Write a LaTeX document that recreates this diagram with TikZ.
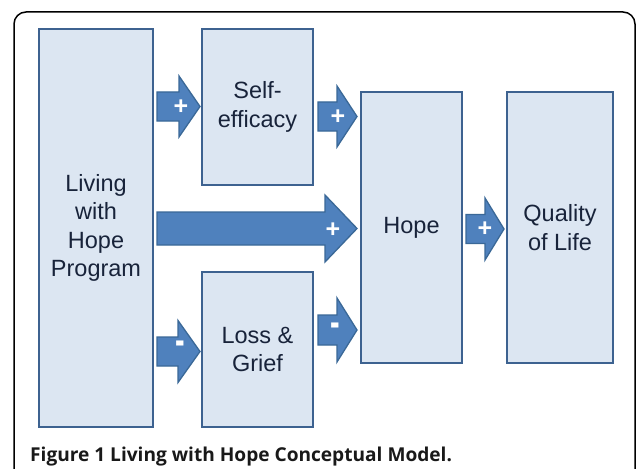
\documentclass[tikz,border=0pt]{standalone}
\usepackage{fontspec}
\setmainfont{Liberation Sans}
\newfontfamily\capfont{Open Sans}
\definecolor{boxfill}{HTML}{DCE6F2}
\definecolor{boxline}{HTML}{3D6290}
\definecolor{arrfill}{HTML}{4F81BD}
\definecolor{arrline}{HTML}{3A6897}
\definecolor{txt}{HTML}{18233A}
\tikzset{
  blk/.style={draw=boxline, line width=1.8pt, fill=boxfill, inner sep=0pt,
    text=txt, align=center, font=\fontsize{23.5}{28.5}\selectfont},
  blockarrow/.style={draw=arrline, line width=1.3pt, fill=arrfill, line join=miter},
  sign/.style={text=white, font=\bfseries\fontsize{25}{25}\selectfont, inner sep=0pt},
}
\newcommand{\barrow}[6]{% tail x, mid y, head start x, tip x, half shaft, half head
  \path[blockarrow] (#1,#2-#5) -- (#3,#2-#5) -- (#3,#2-#6) -- (#4,#2) -- (#3,#2+#6) -- (#3,#2+#5) -- (#1,#2+#5) -- cycle;}
\newcommand{\minussign}{\scalebox{1.15}[1.7]{-}}
\begin{document}
\begin{tikzpicture}[x=1pt,y=-1pt]
\useasboundingbox (0,0) rectangle (636,468);
\fill[white] (0,0) rectangle (636,468);
% frame
\draw[line width=1.5pt] (14,470) -- (14,24) arc[start angle=180,end angle=270,radius=12] -- (623,12) arc[start angle=-90,end angle=0,radius=12] -- (635,470);
% boxes
\node[blk, minimum width=114pt, minimum height=398pt] (live) at (96,228) {Living\\with\\Hope\\Program};
\node[blk, minimum width=111pt, minimum height=156pt] (self) at (257.5,107) {Self-\\efficacy};
\node[blk, minimum width=111pt, minimum height=155pt] (loss) at (257.5,349.5) {Loss \&\\Grief};
\node[blk, minimum width=101pt, minimum height=271pt] (hope) at (411.5,227.5) {Hope};
\node[blk, minimum width=106pt, minimum height=271pt] (qol) at (560,227.5) {Quality\\of Life};
% arrows
\barrow{157}{106.5}{179}{200}{14.5}{30.5}
\node[sign] (s1) at (181,107) {+};
\barrow{318}{116.5}{337}{357}{14.5}{30.5}
\node[sign] (s2) at (338,117) {+};
\barrow{157}{228.5}{325}{357}{16.5}{33.5}
\node[sign] (s3) at (333,230) {+};
\barrow{466}{229}{485}{504}{14.5}{31}
\node[sign] (s4) at (485,229) {+};
\barrow{157}{351.5}{178}{200}{14.5}{31}
\node[sign] (s5) at (180,348) {\minussign};
\barrow{318}{330}{337}{357}{15}{32}
\node[sign] (s6) at (335,330) {\minussign};
% caption
\node[anchor=base west, inner sep=0pt, text=black!90, font=\capfont\bfseries\fontsize{19.1}{19}\selectfont] (cap) at (30,461) {Figure 1 Living with Hope Conceptual Model.};
\end{tikzpicture}
\end{document}
